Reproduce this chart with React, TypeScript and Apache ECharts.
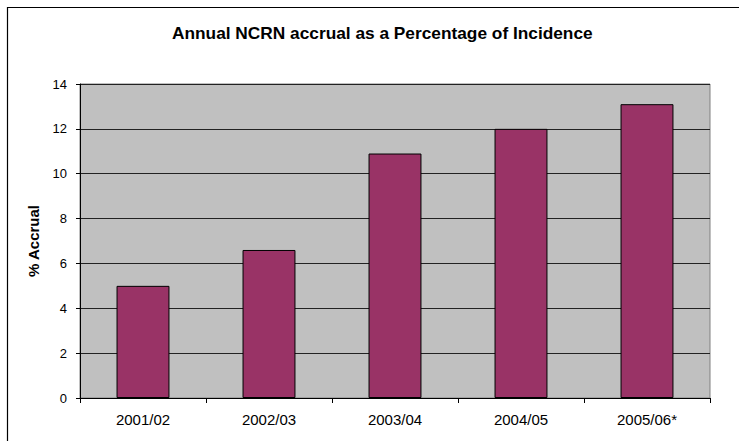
import React, { useEffect, useRef } from "react";
import * as echarts from "echarts";

const categories = ["2001/02", "2002/03", "2003/04", "2004/05", "2005/06*"];
const accrual = [5.0, 6.6, 10.9, 12.0, 13.1];
const titleText = "Annual NCRN accrual as a Percentage of Incidence";
const yAxisTitle = "% Accrual";

export default function App() {
  const ref = useRef<HTMLDivElement>(null);
  useEffect(() => {
    const chart = echarts.init(ref.current!, null, { renderer: "svg" });
    const font = "'Liberation Sans', Arial, sans-serif";
    chart.setOption({
      animation: false,
      backgroundColor: "#ffffff",
      title: {
        text: titleText,
        left: 167,
        top: 19,
        textStyle: { fontFamily: font, fontSize: 17.3, fontWeight: "bold", color: "#000" },
      },
      graphic: [
        {
          type: "rect",
          shape: { x: 7.5, y: 7.5, width: 760, height: 460 },
          style: { fill: "none", stroke: "#000", lineWidth: 1.2 },
          silent: true,
        },
      ],
      grid: {
        left: 80,
        right: 29,
        top: 84,
        bottom: 43,
        show: true,
        backgroundColor: "#C0C0C0",
        borderColor: "#808080",
        borderWidth: 1,
      },
      xAxis: {
        type: "category",
        data: categories,
        axisLine: { show: true, lineStyle: { color: "#000", width: 1 } },
        axisTick: { show: true, alignWithLabel: false, length: 5, lineStyle: { color: "#000" } },
        axisLabel: { fontFamily: font, fontSize: 15, color: "#000", margin: 14 },
        splitLine: { show: false },
      },
      yAxis: {
        type: "value",
        min: 0,
        max: 14,
        interval: 2,
        name: yAxisTitle,
        nameLocation: "middle",
        nameGap: 39,
        nameTextStyle: { fontFamily: font, fontSize: 15, fontWeight: "bold", color: "#000" },
        axisLine: { show: true, lineStyle: { color: "#000", width: 1 } },
        axisTick: { show: true, length: 4, lineStyle: { color: "#000" } },
        axisLabel: { fontFamily: font, fontSize: 13, color: "#000", margin: 13 },
        splitLine: { show: true, lineStyle: { color: "#222", width: 1 } },
      },
      series: [
        {
          type: "bar",
          data: accrual,
          barWidth: "42%",
          itemStyle: { color: "#993366", borderColor: "#000", borderWidth: 1 },
        },
      ],
    });
    return () => chart.dispose();
  }, []);
  return (
    <div
      ref={ref}
      style={{ position: "fixed", left: 0, top: 0, width: 739, height: 441 }}
    />
  );
}
